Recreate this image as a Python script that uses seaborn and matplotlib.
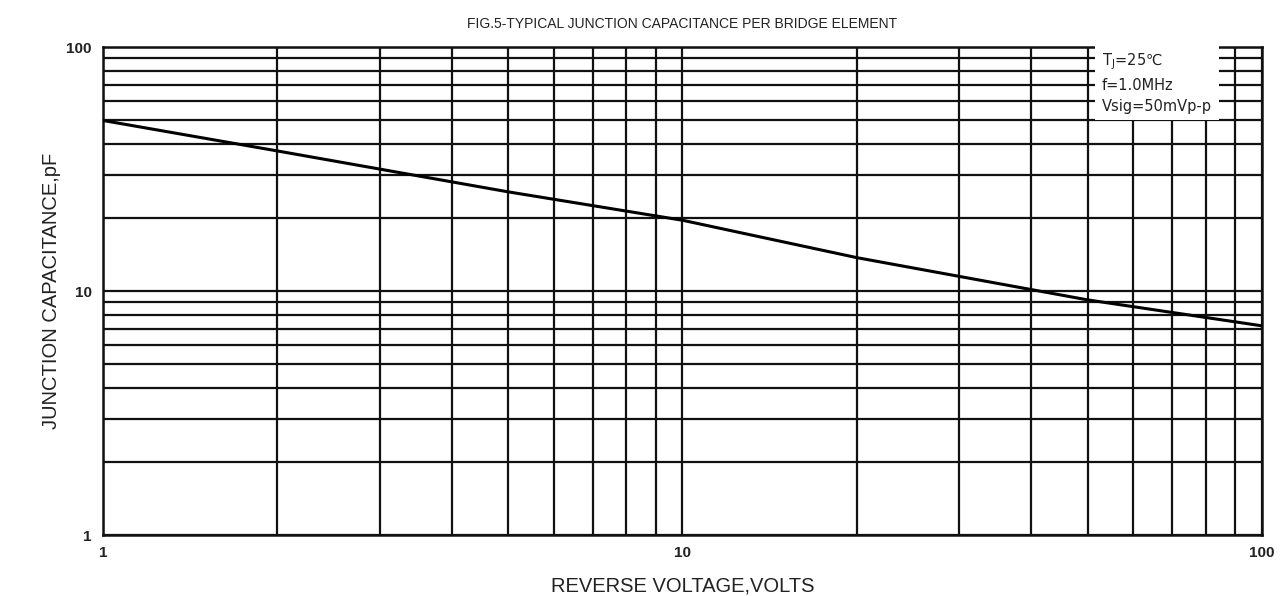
import matplotlib.pyplot as plt
import pandas as pd
import seaborn as sns
from matplotlib.ticker import FixedLocator, LogLocator, NullFormatter

# reverse voltage (V) vs junction capacitance (pF)
voltage = [1, 2, 5, 10, 20, 50, 100]
capacitance = [50, 37.5, 25.5, 19.5, 13.7, 9.2, 7.2]
x_ticks = [1, 10, 100]
x_tick_labels = ["1", "10", "100"]
y_ticks = [1, 10, 100]
y_tick_labels = ["1", "10", "100"]
conditions = ["T$_\\mathregular{J}$=25℃", "f=1.0MHz", "Vsig=50mVp-p"]

df = pd.DataFrame({"V": voltage, "C": capacitance})

sns.set_theme(style="white")
plt.rcParams["font.family"] = ["Liberation Sans", "DejaVu Sans"]

fig = plt.figure(figsize=(12.83, 5.96), dpi=100)
ax = fig.add_axes([0.0803, 0.1023, 0.9033, 0.8188])

sns.lineplot(data=df, x="V", y="C", color="black", linewidth=2.2, ax=ax, zorder=3)
ax.set_xscale("log")
ax.set_yscale("log")
ax.set_xlim(1, 100)
ax.set_ylim(1, 100)

ax.xaxis.set_major_locator(FixedLocator(x_ticks))
ax.yaxis.set_major_locator(FixedLocator(y_ticks))
ax.set_xticklabels(x_tick_labels)
ax.set_yticklabels(y_tick_labels)
ax.xaxis.set_minor_locator(LogLocator(base=10, subs=range(2, 10)))
ax.yaxis.set_minor_locator(LogLocator(base=10, subs=range(2, 10)))
ax.xaxis.set_minor_formatter(NullFormatter())
ax.yaxis.set_minor_formatter(NullFormatter())
ax.tick_params(which="both", length=0, labelsize=11, colors="#222222", pad=8)
for lab in ax.get_xticklabels() + ax.get_yticklabels():
    lab.set_fontweight("bold")

ax.grid(which="both", color="#111111", linewidth=1.6)
ax.set_axisbelow(True)
for sp in ax.spines.values():
    sp.set_color("#111111")
    sp.set_linewidth(1.8)

ax.set_xlabel("REVERSE VOLTAGE,VOLTS", fontsize=14.5, color="#222222", labelpad=12)
ax.set_ylabel("JUNCTION CAPACITANCE,pF", fontsize=14.5, color="#222222", labelpad=4)
ax.set_title("FIG.5-TYPICAL JUNCTION CAPACITANCE PER BRIDGE ELEMENT",
             fontsize=10, color="#222222", pad=14)

# small white box with the test conditions (DejaVu Sans carries the ℃ sign)
ax.text(0.862, 0.992, "\n".join(conditions), transform=ax.transAxes, ha="left", va="top",
        fontsize=10.5, color="#222222", linespacing=1.5, zorder=5, family="DejaVu Sans",
        bbox=dict(facecolor="white", edgecolor="none", boxstyle="square,pad=0.45"))

fig.savefig("out.png", dpi=100)
